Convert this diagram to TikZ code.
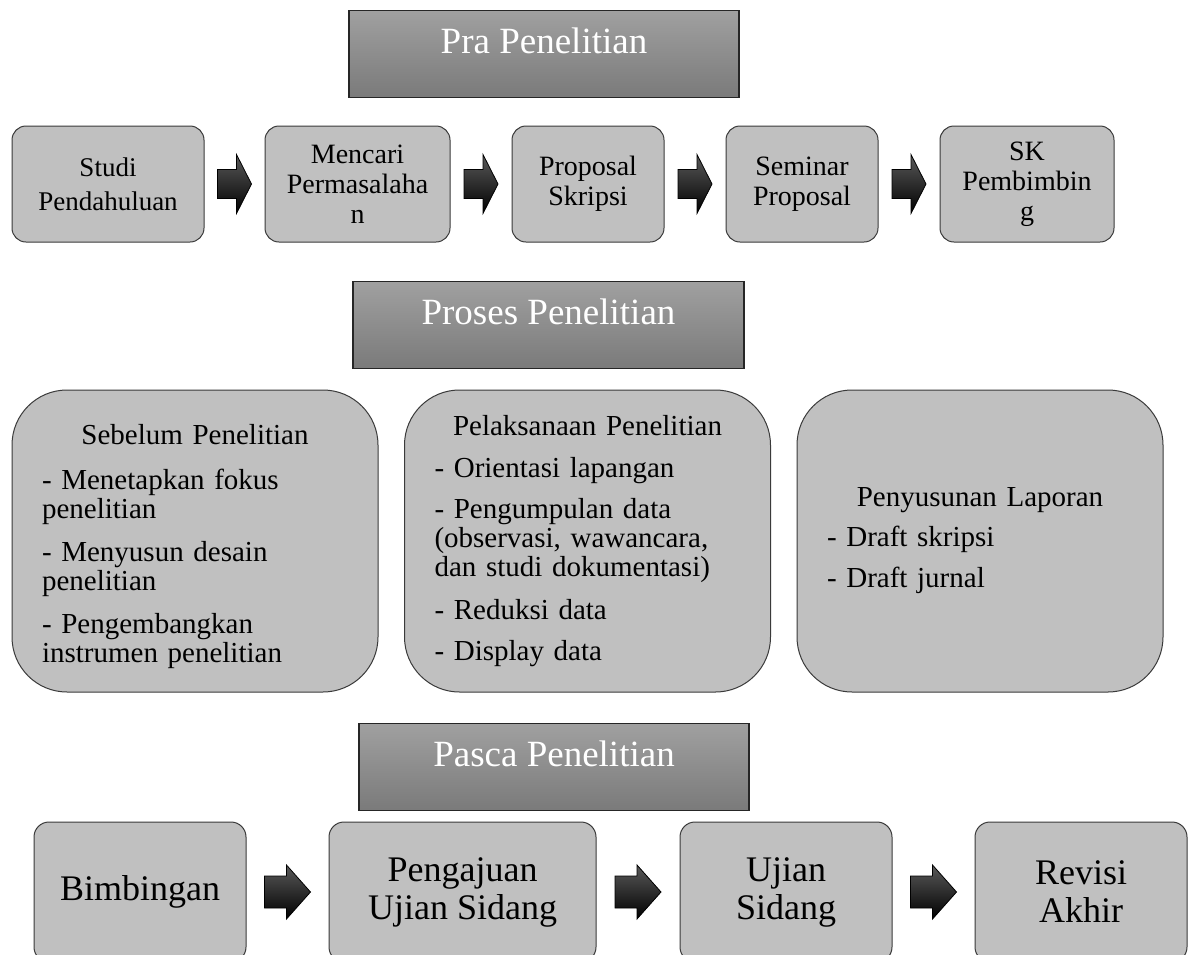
\documentclass[tikz,border=0pt]{standalone}
\usepackage{fontspec}
\setmainfont{Liberation Serif}
\usetikzlibrary{calc}
\setlength{\parindent}{0pt}
\definecolor{boxfill}{HTML}{C0C0C0}
\definecolor{boxline}{HTML}{3A3A3A}
\definecolor{htop}{HTML}{A0A0A0}
\definecolor{hbot}{HTML}{7A7A7A}
\begin{document}
\begin{tikzpicture}[x=1pt,y=-1pt,
  header/.style={draw=black!85, line width=1.2pt, top color=htop, bottom color=hbot,
    text=white, font=\fontsize{37pt}{40pt}\selectfont, inner sep=0pt,
    minimum width=390pt, text height=43pt, text depth=44pt, anchor=north},
  smallbox/.style={draw=boxline, line width=1pt, fill=boxfill, rounded corners=14pt,
    align=center, font=\fontsize{28pt}{30pt}\selectfont, inner sep=0pt,
    minimum height=116pt},
  bigbox/.style={draw=boxline, line width=1pt, fill=boxfill, rounded corners=55pt,
    font=\fontsize{29pt}{29pt}\selectfont, inner xsep=30pt, inner ysep=0pt,
    text width=306pt, minimum height=302pt},
  endbox/.style={draw=boxline, line width=1pt, fill=boxfill, rounded corners=15pt,
    align=center, font=\fontsize{36pt}{38pt}\selectfont, inner sep=0pt,
    minimum height=140pt, minimum width=212pt},
  blockarrow/.style={draw=black, line width=0.8pt, top color=black!65, bottom color=black},
  arrowA/.pic={\path[blockarrow] (-17,-14.5) -- (2,-14.5) -- (2,-29.5) -- (17,0)
     -- (2,29.5) -- (2,14.5) -- (-17,14.5) -- cycle;},
  arrowB/.pic={\path[blockarrow] (-23,-16) -- (-1,-16) -- (-1,-27) -- (23,0)
     -- (-1,27) -- (-1,16) -- (-23,16) -- cycle;},
]
\useasboundingbox (0,0) rectangle (1189,954);
\clip (0,0) rectangle (1189,954);

% Pra Penelitian
\node[header] (pra) at (544,10) {Pra Penelitian};
\node[smallbox, minimum width=192pt, font=\fontsize{27pt}{34pt}\selectfont] (s1) at (108,184) {Studi\\Pendahuluan};
\node[smallbox, minimum width=185pt] (s2) at (357.5,184) {Mencari\\Permasalaha\\n};
\node[smallbox, minimum width=152pt] (s3) at (588,184) {Proposal\\Skripsi};
\node[smallbox, minimum width=152pt] (s4) at (802,184) {Seminar\\Proposal};
\node[smallbox, minimum width=174pt] (s5) at (1027,184) {SK\\Pembimbin\\g};
\pic at ($(s1.east)!0.5!(s2.west)$) {arrowA};
\pic at ($(s2.east)!0.5!(s3.west)$) {arrowA};
\pic at ($(s3.east)!0.5!(s4.west)$) {arrowA};
\pic at ($(s4.east)!0.5!(s5.west)$) {arrowA};

% Proses Penelitian
\node[header, minimum width=391pt] (proses) at (548.5,281) {Proses Penelitian};
\node[bigbox] (sebelum) at (195,541) {{\centering\rule{0pt}{32pt}Sebelum Penelitian\par}\vspace{16pt}\raggedright
  - Menetapkan fokus\\penelitian\par\vspace{14pt}
  - Menyusun desain\\penelitian\par\vspace{14pt}
  - Pengembangkan\\instrumen penelitian\par};
\node[bigbox] (pelaksanaan) at (587.5,541) {{\centering Pelaksanaan Penelitian\par}\vspace{13pt}\raggedright
  - Orientasi lapangan\par\vspace{12pt}
  - Pengumpulan data\\(observasi, wawancara,\\dan studi dokumentasi)\par\vspace{14pt}
  - Reduksi data\par\vspace{12pt}
  - Display data\par};
\node[bigbox] (penyusunan) at (980,541) {{\centering Penyusunan Laporan\par}\vspace{11pt}\raggedright
  - Draft skripsi\par\vspace{12pt}
  - Draft jurnal\par};

% Pasca Penelitian
\node[header] (pasca) at (554,723) {Pasca Penelitian};
\node[endbox] (e1) at (140,892) {Bimbingan};
\node[endbox, minimum width=267pt] (e2) at (462.5,892) {Pengajuan\\Ujian Sidang};
\node[endbox] (e3) at (786,892) {Ujian\\Sidang};
\node[endbox] (e4) at (1081,892) {Revisi\\Akhir};
\pic at ($(e1.east)!0.5!(e2.west)$) {arrowB};
\pic at ($(e2.east)!0.5!(e3.west)$) {arrowB};
\pic at ($(e3.east)!0.5!(e4.west)$) {arrowB};
\end{tikzpicture}
\end{document}
